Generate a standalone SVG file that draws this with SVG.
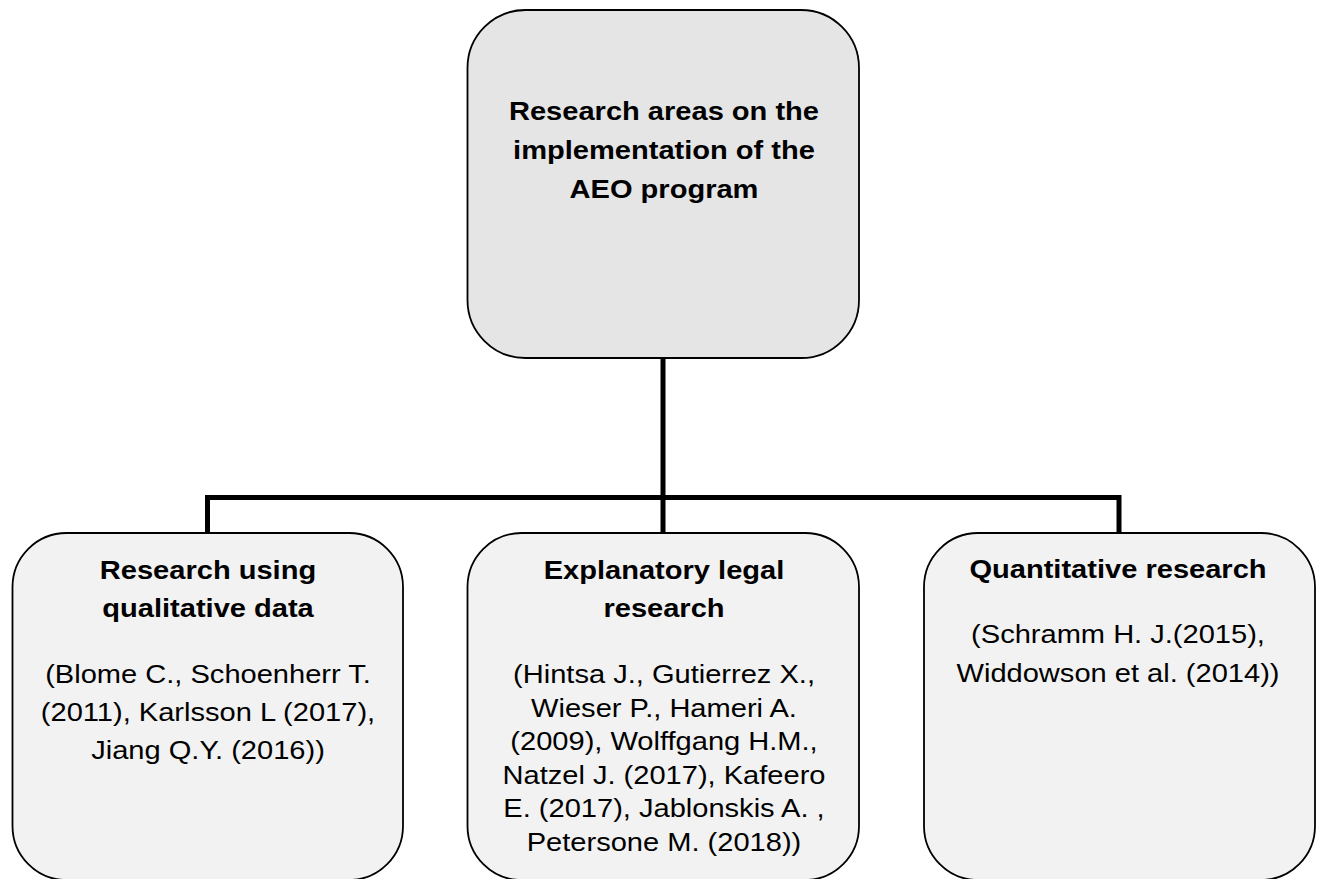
<svg xmlns="http://www.w3.org/2000/svg" width="1319" height="879" viewBox="0 0 1319 879">
<style>
.box{stroke:#000;stroke-width:1.8}
.top{fill:#e5e5e5}
.sub{fill:#f2f2f2}
.conn{fill:none;stroke:#000;stroke-width:5;stroke-linecap:square;stroke-linejoin:miter}
text{font-family:"Liberation Sans",Arial,sans-serif;font-size:25.5px;fill:#000;text-anchor:middle}
.b{font-weight:bold}
</style>
<rect width="1319" height="879" fill="#fff"/>
<g id="connectors">
<path class="conn" d="M663,360 V532"/>
<path class="conn" d="M207.5,532 V497.5 H1119 V532"/>
</g>
<g id="root">
<rect class="box top" x="467.5" y="10" width="391.5" height="348" rx="58" ry="58"/>
<g transform="translate(664,0) scale(1.14,1)">
<text class="b" x="0" y="120.5">Research areas on the</text>
<text class="b" x="0" y="159.5">implementation of the</text>
<text class="b" x="0" y="198.5">AEO program</text>
</g>
</g>
<g id="qualitative">
<rect class="box sub" x="12.5" y="533" width="390.5" height="347" rx="54" ry="54"/>
<g transform="translate(208,0) scale(1.14,1)">
<text class="b" x="0" y="579">Research using</text>
<text class="b" x="0" y="617">qualitative data</text>
<text x="0" y="683">(Blome C., Schoenherr T.</text>
<text x="0" y="721">(2011), Karlsson L (2017),</text>
<text x="0" y="759">Jiang Q.Y. (2016))</text>
</g>
</g>
<g id="legal">
<rect class="box sub" x="467.5" y="533" width="391.5" height="347" rx="54" ry="54"/>
<g transform="translate(664,0) scale(1.14,1)">
<text class="b" x="0" y="579">Explanatory legal</text>
<text class="b" x="0" y="617">research</text>
<text x="0" y="683">(Hintsa J., Gutierrez X.,</text>
<text x="0" y="716.7">Wieser P., Hameri A.</text>
<text x="0" y="750.4">(2009), Wolffgang H.M.,</text>
<text x="0" y="784">Natzel J. (2017), Kafeero</text>
<text x="0" y="817.5">E. (2017), Jablonskis A. ,</text>
<text x="0" y="851">Petersone M. (2018))</text>
</g>
</g>
<g id="quantitative">
<rect class="box sub" x="924" y="533" width="391" height="347" rx="54" ry="54"/>
<g transform="translate(1118,0) scale(1.14,1)">
<text class="b" x="0" y="578">Quantitative research</text>
<text x="0" y="643">(Schramm H. J.(2015),</text>
<text x="0" y="682">Widdowson et al. (2014))</text>
</g>
</g>
</svg>
